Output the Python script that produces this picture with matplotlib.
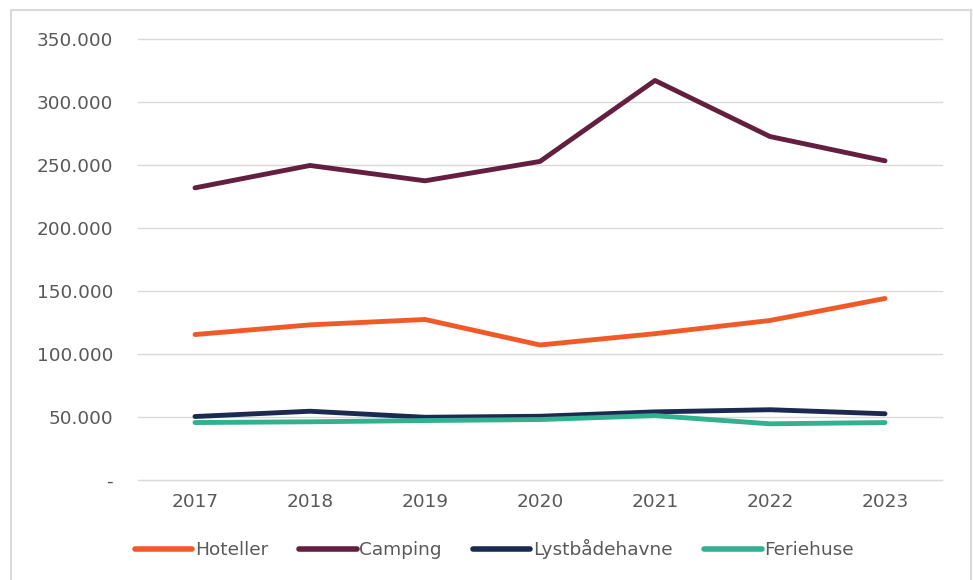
import matplotlib.pyplot as plt
from matplotlib.patches import Rectangle
from matplotlib.ticker import FuncFormatter

years = [2017, 2018, 2019, 2020, 2021, 2022, 2023]
hoteller = [115300, 123000, 127300, 107000, 116000, 126500, 144000]
camping = [232000, 249800, 237600, 253000, 317400, 272800, 253500]
lystbaadehavne = [50100, 54300, 49500, 50300, 53800, 55500, 52300]
feriehuse = [45300, 45900, 46900, 47700, 50800, 44300, 45300]

series = [
    ("Hoteller", hoteller, "#F05A28"),
    ("Camping", camping, "#641E3F"),
    ("Lystbådehavne", lystbaadehavne, "#1C2A52"),
    ("Feriehuse", feriehuse, "#33B08E"),
]

plt.rcParams["font.family"] = ["DejaVu Sans"]
fs = 13.3

fig = plt.figure(figsize=(9.73, 5.8), dpi=100)
ax = fig.add_axes([137.5 / 973, 1 - 479.5 / 580, 805 / 973, 440 / 580])

x = list(range(len(years)))
for name, vals, col in series:
    ax.plot(x, vals, color=col, lw=3.5, label=name, solid_capstyle="round",
            solid_joinstyle="round")

ax.set_xlim(-0.5, len(years) - 0.5)
ax.set_ylim(0, 350000)
ax.set_yticks(range(0, 350001, 50000))
ax.yaxis.set_major_formatter(
    FuncFormatter(lambda v, p: "-" if v == 0 else f"{int(v):,}".replace(",", "."))
)
ax.set_xticks(x)
ax.set_xticklabels([str(y) for y in years])
ax.grid(axis="y", color="#D9D9D9", lw=1)
for gl in ax.get_ygridlines():
    gl.set_clip_on(False)
ax.set_axisbelow(True)
for s in ["top", "right", "left"]:
    ax.spines[s].set_visible(False)
ax.spines["bottom"].set_color("#D9D9D9")
ax.tick_params(axis="both", length=0, labelsize=fs, colors="#595959")
ax.tick_params(axis="y", pad=17.5)
ax.tick_params(axis="x", pad=10)

leg = fig.legend(loc="center", bbox_to_anchor=(0.508, 1 - 549 / 580), ncol=4,
                 frameon=False, fontsize=fs, handlelength=3.1,
                 handletextpad=0.15, columnspacing=1.7)
for t in leg.get_texts():
    t.set_color("#595959")
for h in leg.get_lines():
    h.set_linewidth(4)

fig.patches.append(Rectangle((11 / 973, -0.05), 960 / 973, 1.05 - 10 / 580,
                             transform=fig.transFigure, fill=False,
                             edgecolor="#D9D9D9", lw=1.5))

fig.savefig("out.png", dpi=100)
